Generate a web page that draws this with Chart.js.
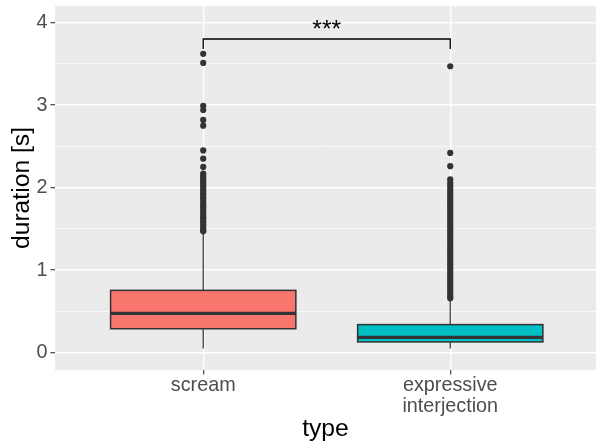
<!DOCTYPE html>
<html>
<head>
  <meta charset="utf-8" />
  <title>Duration by call type</title>
  <script src="https://cdn.jsdelivr.net/npm/chart.js"></script>
  <style>
    body { margin: 0; background: #ffffff; }
    canvas { display: block; }
  </style>
</head>
<body>
  <canvas id="durationChart" width="596" height="445"></canvas>

  <script>
    // Categories (second one wraps on two lines)
    const categories = ['scream', ['expressive', 'interjection']];
    const xTicks = [1, 2];

    // Box statistics, in seconds
    const whiskerLow = [0.05, 0.05];
    const q1 = [0.29, 0.13];
    const median = [0.475, 0.185];
    const q3 = [0.755, 0.34];
    const whiskerHigh = [1.45, 0.64];

    // Outliers
    const screamOutliers = [3.62, 3.51, 2.99, 2.94, 2.82, 2.75, 2.45, 2.35, 2.25,
      2.17, 2.14, 2.12, 2.09, 2.06, 2.03, 2.01, 1.98, 1.95, 1.92, 1.89, 1.87, 1.84,
      1.81, 1.78, 1.76, 1.73, 1.70, 1.67, 1.64, 1.62, 1.59, 1.56, 1.53, 1.50, 1.48, 1.47];
    const interjectionOutliers = [3.47, 2.42, 2.26, 2.10,
      2.06, 2.03, 2.00, 1.97, 1.94, 1.91, 1.88, 1.85, 1.82, 1.79, 1.76, 1.73, 1.70,
      1.67, 1.64, 1.61, 1.58, 1.55, 1.52, 1.49, 1.46, 1.43, 1.40, 1.37, 1.34, 1.31,
      1.28, 1.25, 1.22, 1.19, 1.16, 1.13, 1.10, 1.07, 1.04, 1.01, 0.98, 0.95, 0.92,
      0.89, 0.86, 0.83, 0.80, 0.77, 0.74, 0.71, 0.68, 0.66];

    // Y axis ticks (minor ones at the halves carry no label)
    const yTicks = [0, 0.5, 1, 1.5, 2, 2.5, 3, 3.5, 4];

    // Significance bracket
    const bracketY = 3.80;
    const bracketTip = 3.68;
    const bracketLabel = '***';

    const fills = ['#F8766D', '#00BFC4'];
    const boxWidth = 0.75;
    const fontFamily = '"Liberation Sans", Arial, Helvetica, sans-serif';

    const outlierPoints = [];
    screamOutliers.forEach(v => outlierPoints.push({ x: 1, y: v }));
    interjectionOutliers.forEach(v => outlierPoints.push({ x: 2, y: v }));

    const isMajor = v => Math.abs(v - Math.round(v)) < 1e-9;

    const boxPlugin = {
      id: 'boxes',
      beforeDraw(chart) {
        // grey panel
        const { ctx, chartArea } = chart;
        ctx.save();
        ctx.fillStyle = '#EBEBEB';
        ctx.fillRect(chartArea.left, chartArea.top, chartArea.right - chartArea.left, chartArea.bottom - chartArea.top);
        ctx.restore();
      },
      beforeDatasetsDraw(chart) {
        const { ctx } = chart;
        const xs = chart.scales.x, ys = chart.scales.y;
        ctx.save();
        ctx.strokeStyle = '#333333';
        for (let i = 0; i < xTicks.length; i++) {
          const xc = xs.getPixelForValue(xTicks[i]);
          const x0 = xs.getPixelForValue(xTicks[i] - boxWidth / 2);
          const x1 = xs.getPixelForValue(xTicks[i] + boxWidth / 2);
          // whiskers
          ctx.lineWidth = 1.2;
          ctx.beginPath();
          ctx.moveTo(xc, ys.getPixelForValue(whiskerLow[i]));
          ctx.lineTo(xc, ys.getPixelForValue(q1[i]));
          ctx.moveTo(xc, ys.getPixelForValue(q3[i]));
          ctx.lineTo(xc, ys.getPixelForValue(whiskerHigh[i]));
          ctx.stroke();
          // box
          const yTop = ys.getPixelForValue(q3[i]);
          const yBot = ys.getPixelForValue(q1[i]);
          ctx.fillStyle = fills[i];
          ctx.fillRect(x0, yTop, x1 - x0, yBot - yTop);
          ctx.lineWidth = 1.5;
          ctx.strokeRect(x0, yTop, x1 - x0, yBot - yTop);
          // median
          ctx.lineWidth = 3.2;
          ctx.beginPath();
          ctx.moveTo(x0, ys.getPixelForValue(median[i]));
          ctx.lineTo(x1, ys.getPixelForValue(median[i]));
          ctx.stroke();
        }
        ctx.restore();
      },
      afterDatasetsDraw(chart) {
        const { ctx } = chart;
        const xs = chart.scales.x, ys = chart.scales.y;
        const xa = xs.getPixelForValue(xTicks[0]);
        const xb = xs.getPixelForValue(xTicks[1]);
        const yl = ys.getPixelForValue(bracketY);
        const yt = ys.getPixelForValue(bracketTip);
        ctx.save();
        ctx.strokeStyle = '#000000';
        ctx.lineWidth = 1.3;
        ctx.beginPath();
        ctx.moveTo(xa, yt);
        ctx.lineTo(xa, yl);
        ctx.lineTo(xb, yl);
        ctx.lineTo(xb, yt);
        ctx.stroke();
        ctx.fillStyle = '#000000';
        ctx.font = '24.7px ' + fontFamily;
        ctx.textAlign = 'center';
        ctx.textBaseline = 'alphabetic';
        ctx.fillText(bracketLabel, (xa + xb) / 2, yl - 2.3);
        ctx.restore();
      }
    };

    const ctx = document.getElementById('durationChart').getContext('2d');
    const durationChart = new Chart(ctx, {
      type: 'scatter',
      data: {
        datasets: [{
          label: 'outliers',
          data: outlierPoints,
          backgroundColor: '#333333',
          borderWidth: 0,
          pointRadius: 3.1,
          pointHoverRadius: 3.1
        }]
      },
      options: {
        responsive: false,
        animation: false,
        layout: { autoPadding: false, padding: { top: 6, right: 0, left: 0, bottom: 0 } },
        plugins: {
          legend: { display: false },
          tooltip: { enabled: false }
        },
        scales: {
          x: {
            type: 'linear',
            min: 0.4,
            max: 2.59,
            afterBuildTicks: scale => { scale.ticks = xTicks.map(v => ({ value: v })); },
            afterFit: scale => {
              scale.height = 75;
              scale.paddingLeft = 0;
              scale.paddingRight = 0;
            },
            border: { display: false },
            grid: {
              color: '#FFFFFF',
              lineWidth: 1.4,
              tickColor: '#333333',
              tickWidth: 1.1,
              tickLength: 4.5
            },
            ticks: {
              autoSkip: false,
              maxRotation: 0,
              padding: 0,
              color: '#4D4D4D',
              font: { family: fontFamily, size: 19.8, lineHeight: '21.6px' },
              callback: v => categories[Math.round(v) - 1]
            },
            title: {
              display: true,
              text: 'type',
              color: '#000000',
              font: { family: fontFamily, size: 24.7, lineHeight: 1.2 },
              padding: { top: 0, bottom: 0.5 }
            }
          },
          y: {
            type: 'linear',
            min: -0.21,
            max: 4.2,
            afterBuildTicks: scale => { scale.ticks = yTicks.map(v => ({ value: v })); },
            afterFit: scale => {
              scale.width = 55;
              scale.paddingTop = 0;
              scale.paddingBottom = 0;
            },
            border: { display: false },
            grid: {
              color: '#FFFFFF',
              lineWidth: c => (c.tick && isMajor(c.tick.value) ? 1.4 : 0.7),
              tickColor: c => (c.tick && isMajor(c.tick.value) ? '#333333' : 'rgba(0,0,0,0)'),
              tickWidth: 1.1,
              tickLength: 4.5
            },
            ticks: {
              padding: 3,
              color: '#4D4D4D',
              font: { family: fontFamily, size: 19.8 },
              callback: v => (isMajor(v) ? String(v) : '')
            },
            title: {
              display: true,
              text: 'duration [s]',
              color: '#000000',
              font: { family: fontFamily, size: 24.7, lineHeight: 1.2 },
              padding: { top: 7, bottom: 0 }
            }
          }
        }
      },
      plugins: [boxPlugin]
    });
  </script>
</body>
</html>
